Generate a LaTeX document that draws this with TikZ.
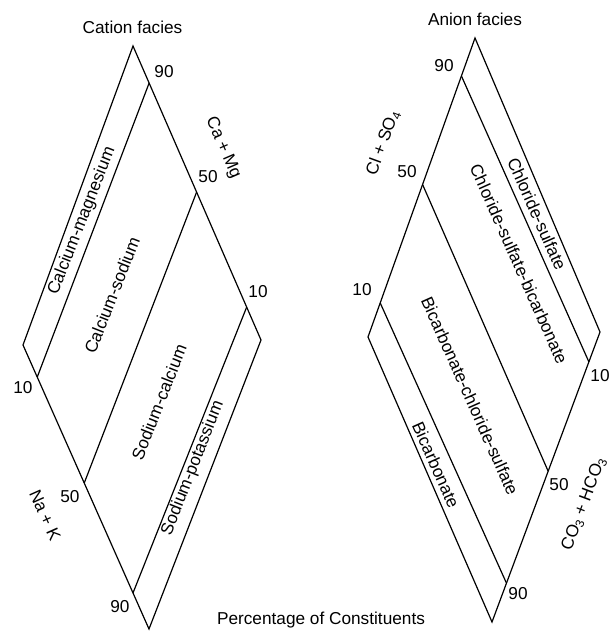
\documentclass[tikz,border=0pt]{standalone}
\usepackage{fontspec}
\setmainfont{Liberation Sans}
\usetikzlibrary{calc}
\begin{document}
\begin{tikzpicture}[x=1bp,y=-1bp, line width=1.2bp, line join=miter,
  txt/.style={font=\fontsize{17.3}{19}\selectfont, inner sep=0pt, anchor=center},
  border/.style={line width=1.2bp},
  divider/.style={line width=1.2bp}]
\useasboundingbox (0,0) rectangle (610,631);
% ---------------- Cation diamond ----------------
\coordinate (cT) at (133,46);
\coordinate (cR) at (261,340);
\coordinate (cB) at (149,629);
\coordinate (cL) at (23,345);
\draw[border] (cT) -- (cR) -- (cB) -- (cL) -- cycle;
\foreach \s/\t/\n in {0.126/0.113/a, 0.497/0.486/b, 0.888/0.873/c} {
  \coordinate (cu\n) at ($(cT)!\s!(cR)$);
  \coordinate (cd\n) at ($(cL)!\t!(cB)$);
  \draw[divider] (cu\n) -- (cd\n);
}
% ---------------- Anion diamond ----------------
\coordinate (aT) at (475,38);
\coordinate (aR) at (600,332);
\coordinate (aB) at (492,622);
\coordinate (aL) at (368,337);
\draw[border] (aT) -- (aR) -- (aB) -- (aL) -- cycle;
\foreach \s/\t/\n in {0.127/0.103/a, 0.49/0.48/b, 0.886/0.866/c} {
  \coordinate (au\n) at ($(aT)!\s!(aL)$);
  \coordinate (ad\n) at ($(aR)!\t!(aB)$);
  \draw[divider] (au\n) -- (ad\n);
}
% ---------------- Titles ----------------
\node[txt] (tcat) at (132.5,27) {Cation facies};
\node[txt] (tan) at (475,19) {Anion facies};
\node[txt] (tpct) at (321,620) {Percentage of Constituents};
% ---------------- Cation facies labels ----------------
\node[txt, rotate=68.5] (f1) at (82,221) {Calcium-magnesium};
\node[txt, rotate=68.5] (f2) at (112,295) {Calcium-sodium};
\node[txt, rotate=68.5] (f3) at (159,402) {Sodium-calcium};
\node[txt, rotate=68.5] (f4) at (193,468) {Sodium-potassium};
\node[txt, rotate=-66.5] (axca) at (223,148) {Ca + Mg};
\node[txt, rotate=-66] (axna) at (45,515) {Na + K};
\node[txt] (n1) at (164,72) {90};
\node[txt] (n2) at (208,177) {50};
\node[txt] (n3) at (258,292) {10};
\node[txt] (n4) at (23,388) {10};
\node[txt] (n5) at (70,497) {50};
\node[txt] (n6) at (120,607) {90};
% ---------------- Anion facies labels ----------------
\node[txt, rotate=-66] (g1) at (537,214) {Chloride-sulfate};
\node[txt, rotate=-66] (g2) at (519,264) {Chloride-sulfate-bicarbonate};
\node[txt, rotate=-66] (g3) at (470,396) {Bicarbonate-chloride-sulfate};
\node[txt, rotate=-66] (g4) at (436,465) {Bicarbonate};
\node[txt, rotate=70] (axcl) at (383,143) {Cl + SO\textsubscript{4}};
\node[txt, rotate=69.5] (axco) at (584,504) {CO\textsubscript{3} + HCO\textsubscript{3}};
\node[txt] (m1) at (444,66) {90};
\node[txt] (m2) at (407,172) {50};
\node[txt] (m3) at (362,290) {10};
\node[txt] (m4) at (600,376) {10};
\node[txt] (m5) at (559,485) {50};
\node[txt] (m6) at (518,594) {90};
\end{tikzpicture}
\end{document}
